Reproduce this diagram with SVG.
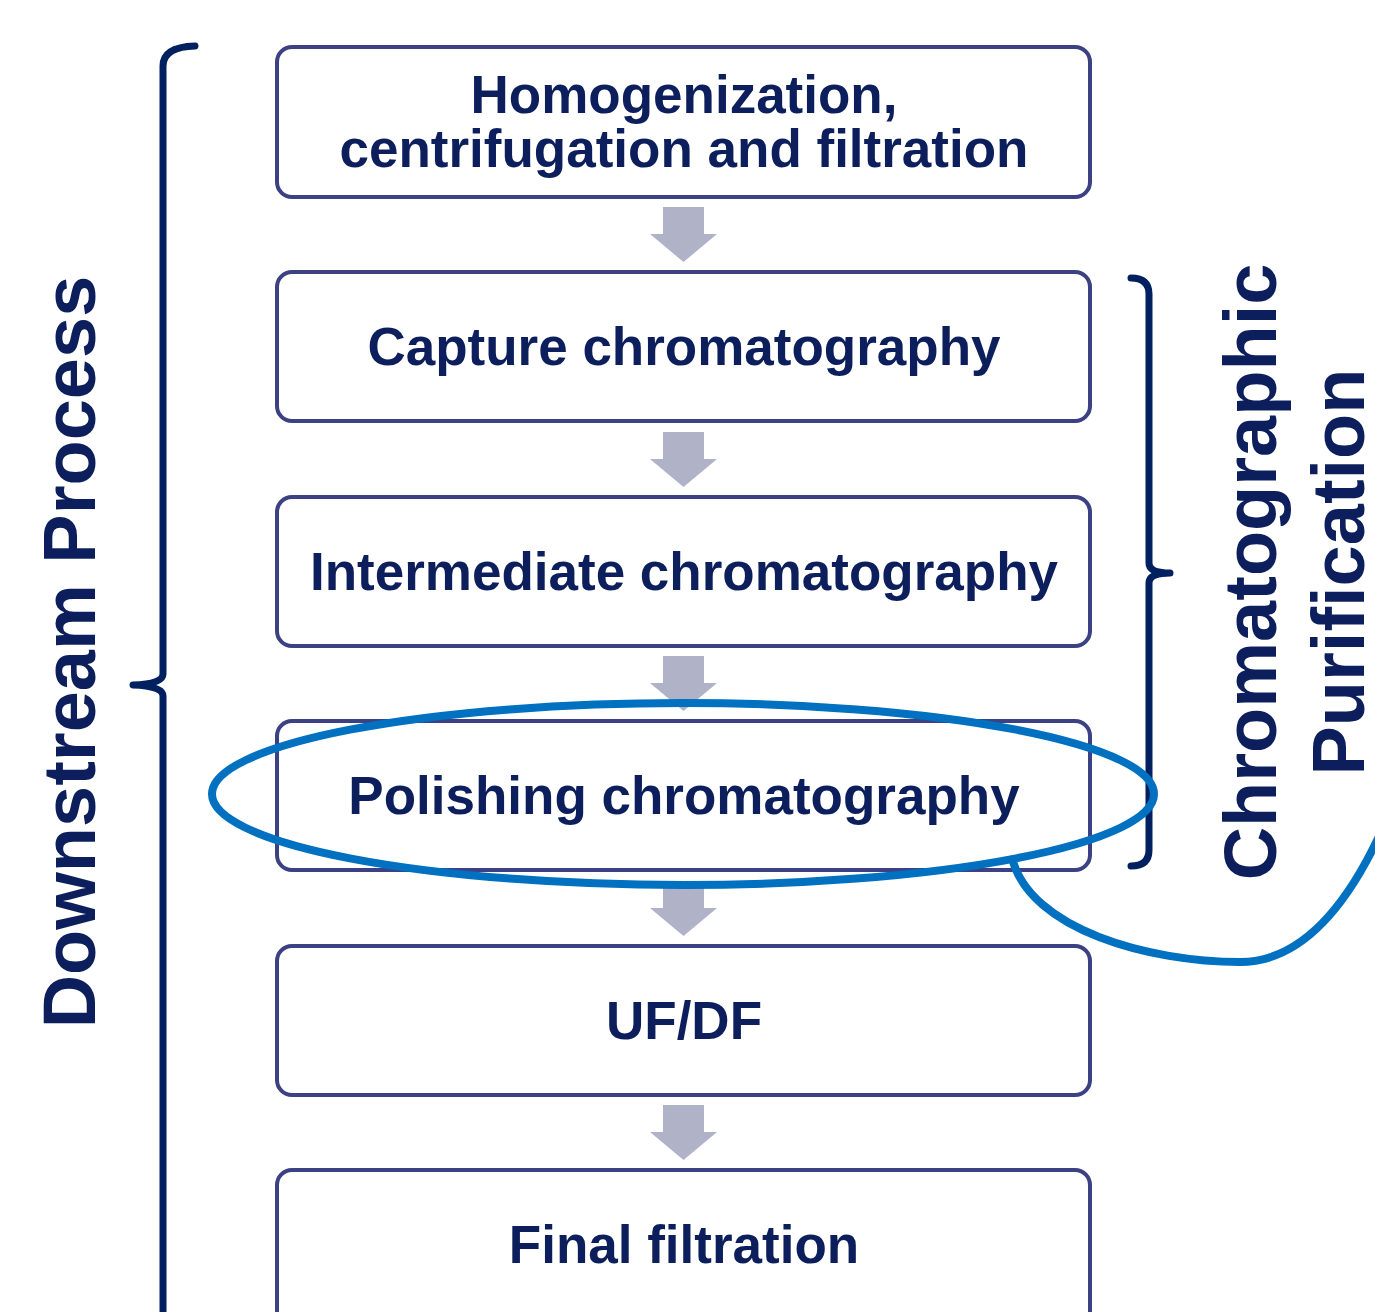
<svg xmlns="http://www.w3.org/2000/svg" width="1375" height="1312" viewBox="0 0 1375 1312">
<style>
.box{fill:#fff;stroke:#3b4182;stroke-width:4}
.t{font-family:"Liberation Sans",Arial,sans-serif;font-weight:bold;font-size:53px;fill:#0c1e5b;text-anchor:middle}
.big{font-family:"Liberation Sans",Arial,sans-serif;font-weight:bold;font-size:74px;fill:#0c1e5b;text-anchor:middle}
.arr{fill:#b0b3c8}
.br{fill:none;stroke:#002060;stroke-width:7;stroke-linecap:round;stroke-linejoin:round}
.hl{fill:none;stroke:#0070c0;stroke-width:8}
</style>
<rect width="1375" height="1312" fill="#fff"/>
<g id="brackets">
<path class="br" d="M195,46 Q163,47 163,66 L163,674 Q163,684 133,685 Q163,686 163,696 L163,1330"/>
<path class="br" d="M1131,278 Q1149,278 1149,294 L1149,563 Q1149,573 1170,573 Q1149,573 1149,583 L1149,850 Q1149,866 1131,866"/>
</g>
<g id="labels">
<text class="big" transform="translate(95,652) rotate(-90)">Downstream Process</text>
<text class="big" transform="translate(1276,572) rotate(-90)">Chromatographic</text>
<text class="big" transform="translate(1364,572) rotate(-90)">Purification</text>
</g>
<g id="connectors">
<polygon class="arr" points="663,207 704,207 704,234 717,234 683.5,262 650,234 663,234"/>
<polygon class="arr" points="663,432 704,432 704,459 717,459 683.5,487 650,459 663,459"/>
<polygon class="arr" points="663,656 704,656 704,683 717,683 683.5,711 650,683 663,683"/>
<polygon class="arr" points="663,881 704,881 704,908 717,908 683.5,936 650,908 663,908"/>
<polygon class="arr" points="663,1105 704,1105 704,1132 717,1132 683.5,1160 650,1132 663,1132"/>
</g>
<g id="n1"><rect class="box" x="277" y="47" width="813" height="150" rx="15"/>
<text class="t" x="684" y="113">Homogenization,</text>
<text class="t" x="684" y="167">centrifugation and filtration</text></g>
<g id="n2"><rect class="box" x="277" y="272" width="813" height="149" rx="15"/>
<text class="t" x="684" y="365">Capture chromatography</text></g>
<g id="n3"><rect class="box" x="277" y="497" width="813" height="149" rx="15"/>
<text class="t" x="684" y="590">Intermediate chromatography</text></g>
<g id="n4"><rect class="box" x="277" y="721" width="813" height="149" rx="15"/>
<text class="t" x="684" y="814">Polishing chromatography</text></g>
<g id="n5"><rect class="box" x="277" y="946" width="813" height="149" rx="15"/>
<text class="t" x="684" y="1039">UF/DF</text></g>
<g id="n6"><rect class="box" x="277" y="1170" width="813" height="160" rx="15"/>
<text class="t" x="684" y="1263">Final filtration</text></g>
<g id="highlight">
<ellipse class="hl" cx="683" cy="794" rx="471" ry="91"/>
<path class="hl" d="M1012,858 C1030,930 1150,962 1240,962 C1305,962 1350,900 1382,830"/>
</g>
</svg>
